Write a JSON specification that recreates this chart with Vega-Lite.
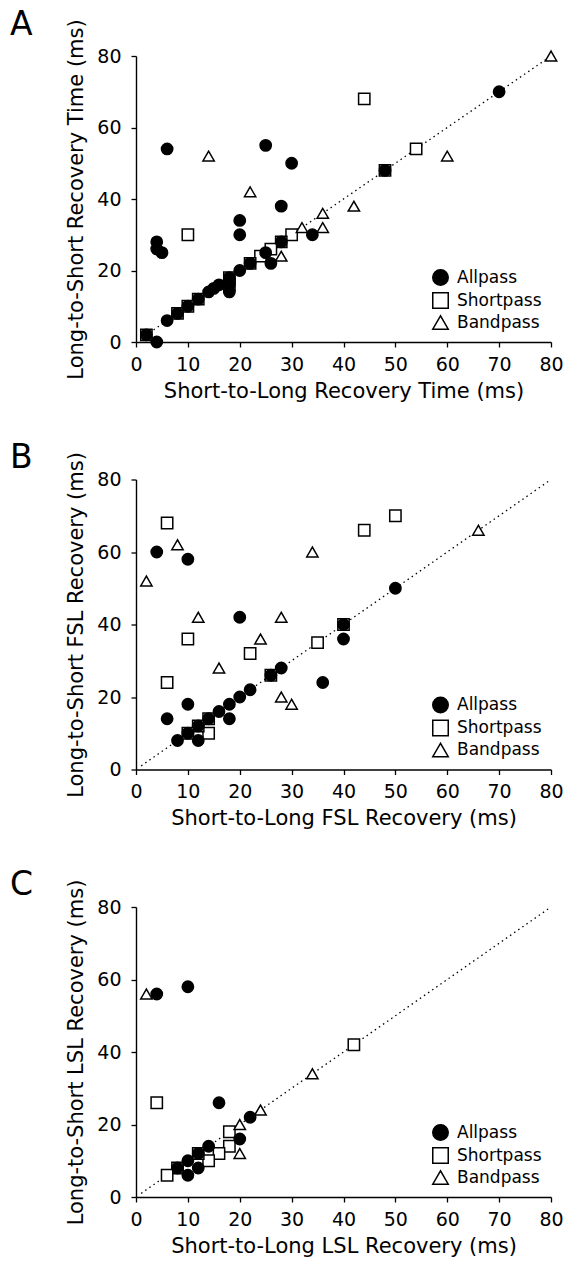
{
  "$schema": "https://vega.github.io/schema/vega-lite/v6.json",
  "background": "white",
  "padding": {"left": 10, "top": 8, "right": 4, "bottom": 4},
  "spacing": 40.5,
  "resolve": {"scale": {"shape": "independent", "fill": "independent", "stroke": "independent"}, "legend": {"shape": "independent", "fill": "independent", "stroke": "independent"}},
  "config": {
    "font": "DejaVu Sans",
    "view": {"stroke": null},
    "title": {"fontSize": 33, "fontWeight": "normal", "anchor": "start", "frame": "group", "dx": -126, "offset": -23, "color": "black"},
    "axis": {
      "grid": false,
      "domainColor": "black", "domainWidth": 1.4,
      "tickColor": "black", "tickWidth": 1.3, "tickSize": 5,
      "labelColor": "black", "labelFontSize": 19, "labelPadding": 8,
      "labelOverlap": false, "labelFlush": false,
      "titleColor": "black", "titleFontSize": 21, "titleFontWeight": "normal"
    },
    "axisX": {"titlePadding": 6},
    "axisY": {"titlePadding": 10, "labelPadding": 10},
    "legend": {
      "orient": "bottom-right", "offset": 9, "padding": 0,
      "labelFontSize": 17, "labelColor": "black", "labelOffset": 8,
      "symbolSize": 240, "symbolStrokeWidth": 1.5,
      "rowPadding": 0
    }
  },
  "datasets": {
    "recovery": [
      {"s2l": 44, "l2s": 68, "filter": "Shortpass"},
      {"s2l": 10, "l2s": 30, "filter": "Shortpass"},
      {"s2l": 54, "l2s": 54, "filter": "Shortpass"},
      {"s2l": 48, "l2s": 48, "filter": "Shortpass"},
      {"s2l": 30, "l2s": 30, "filter": "Shortpass"},
      {"s2l": 28, "l2s": 28, "filter": "Shortpass"},
      {"s2l": 26, "l2s": 26, "filter": "Shortpass"},
      {"s2l": 24, "l2s": 24, "filter": "Shortpass"},
      {"s2l": 22, "l2s": 22, "filter": "Shortpass"},
      {"s2l": 18, "l2s": 18, "filter": "Shortpass"},
      {"s2l": 18, "l2s": 16, "filter": "Shortpass"},
      {"s2l": 12, "l2s": 12, "filter": "Shortpass"},
      {"s2l": 10, "l2s": 10, "filter": "Shortpass"},
      {"s2l": 8, "l2s": 8, "filter": "Shortpass"},
      {"s2l": 2, "l2s": 2, "filter": "Shortpass"},
      {"s2l": 80, "l2s": 80, "filter": "Bandpass"},
      {"s2l": 14, "l2s": 52, "filter": "Bandpass"},
      {"s2l": 60, "l2s": 52, "filter": "Bandpass"},
      {"s2l": 22, "l2s": 42, "filter": "Bandpass"},
      {"s2l": 42, "l2s": 38, "filter": "Bandpass"},
      {"s2l": 36, "l2s": 36, "filter": "Bandpass"},
      {"s2l": 32, "l2s": 32, "filter": "Bandpass"},
      {"s2l": 36, "l2s": 32, "filter": "Bandpass"},
      {"s2l": 28, "l2s": 24, "filter": "Bandpass"},
      {"s2l": 6, "l2s": 54, "filter": "Allpass"},
      {"s2l": 25, "l2s": 55, "filter": "Allpass"},
      {"s2l": 30, "l2s": 50, "filter": "Allpass"},
      {"s2l": 28, "l2s": 38, "filter": "Allpass"},
      {"s2l": 20, "l2s": 34, "filter": "Allpass"},
      {"s2l": 20, "l2s": 30, "filter": "Allpass"},
      {"s2l": 4, "l2s": 28, "filter": "Allpass"},
      {"s2l": 4, "l2s": 26, "filter": "Allpass"},
      {"s2l": 5, "l2s": 25, "filter": "Allpass"},
      {"s2l": 34, "l2s": 30, "filter": "Allpass"},
      {"s2l": 70, "l2s": 70, "filter": "Allpass"},
      {"s2l": 25, "l2s": 25, "filter": "Allpass"},
      {"s2l": 26, "l2s": 22, "filter": "Allpass"},
      {"s2l": 20, "l2s": 20, "filter": "Allpass"},
      {"s2l": 18, "l2s": 18, "filter": "Allpass"},
      {"s2l": 18, "l2s": 16, "filter": "Allpass"},
      {"s2l": 18, "l2s": 14, "filter": "Allpass"},
      {"s2l": 14, "l2s": 14, "filter": "Allpass"},
      {"s2l": 15, "l2s": 15, "filter": "Allpass"},
      {"s2l": 16, "l2s": 16, "filter": "Allpass"},
      {"s2l": 6, "l2s": 6, "filter": "Allpass"},
      {"s2l": 4, "l2s": 0, "filter": "Allpass"},
      {"s2l": 48, "l2s": 48, "filter": "Allpass"},
      {"s2l": 28, "l2s": 28, "filter": "Allpass"},
      {"s2l": 22, "l2s": 22, "filter": "Allpass"},
      {"s2l": 12, "l2s": 12, "filter": "Allpass"},
      {"s2l": 10, "l2s": 10, "filter": "Allpass"},
      {"s2l": 8, "l2s": 8, "filter": "Allpass"},
      {"s2l": 2, "l2s": 2, "filter": "Allpass"}
    ],
    "fsl": [
      {"s2l": 6, "l2s": 68, "filter": "Shortpass"},
      {"s2l": 50, "l2s": 70, "filter": "Shortpass"},
      {"s2l": 44, "l2s": 66, "filter": "Shortpass"},
      {"s2l": 10, "l2s": 36, "filter": "Shortpass"},
      {"s2l": 22, "l2s": 32, "filter": "Shortpass"},
      {"s2l": 6, "l2s": 24, "filter": "Shortpass"},
      {"s2l": 35, "l2s": 35, "filter": "Shortpass"},
      {"s2l": 40, "l2s": 40, "filter": "Shortpass"},
      {"s2l": 26, "l2s": 26, "filter": "Shortpass"},
      {"s2l": 14, "l2s": 10, "filter": "Shortpass"},
      {"s2l": 14, "l2s": 14, "filter": "Shortpass"},
      {"s2l": 12, "l2s": 12, "filter": "Shortpass"},
      {"s2l": 10, "l2s": 10, "filter": "Shortpass"},
      {"s2l": 2, "l2s": 52, "filter": "Bandpass"},
      {"s2l": 8, "l2s": 62, "filter": "Bandpass"},
      {"s2l": 12, "l2s": 42, "filter": "Bandpass"},
      {"s2l": 16, "l2s": 28, "filter": "Bandpass"},
      {"s2l": 24, "l2s": 36, "filter": "Bandpass"},
      {"s2l": 28, "l2s": 42, "filter": "Bandpass"},
      {"s2l": 34, "l2s": 60, "filter": "Bandpass"},
      {"s2l": 66, "l2s": 66, "filter": "Bandpass"},
      {"s2l": 28, "l2s": 20, "filter": "Bandpass"},
      {"s2l": 30, "l2s": 18, "filter": "Bandpass"},
      {"s2l": 4, "l2s": 60, "filter": "Allpass"},
      {"s2l": 10, "l2s": 58, "filter": "Allpass"},
      {"s2l": 20, "l2s": 42, "filter": "Allpass"},
      {"s2l": 50, "l2s": 50, "filter": "Allpass"},
      {"s2l": 40, "l2s": 36, "filter": "Allpass"},
      {"s2l": 36, "l2s": 24, "filter": "Allpass"},
      {"s2l": 28, "l2s": 28, "filter": "Allpass"},
      {"s2l": 22, "l2s": 22, "filter": "Allpass"},
      {"s2l": 20, "l2s": 20, "filter": "Allpass"},
      {"s2l": 18, "l2s": 18, "filter": "Allpass"},
      {"s2l": 18, "l2s": 14, "filter": "Allpass"},
      {"s2l": 16, "l2s": 16, "filter": "Allpass"},
      {"s2l": 10, "l2s": 18, "filter": "Allpass"},
      {"s2l": 6, "l2s": 14, "filter": "Allpass"},
      {"s2l": 8, "l2s": 8, "filter": "Allpass"},
      {"s2l": 12, "l2s": 8, "filter": "Allpass"},
      {"s2l": 10, "l2s": 10, "filter": "Allpass"},
      {"s2l": 12, "l2s": 12, "filter": "Allpass"},
      {"s2l": 14, "l2s": 14, "filter": "Allpass"},
      {"s2l": 26, "l2s": 26, "filter": "Allpass"},
      {"s2l": 40, "l2s": 40, "filter": "Allpass"}
    ],
    "lsl": [
      {"s2l": 4, "l2s": 26, "filter": "Shortpass"},
      {"s2l": 42, "l2s": 42, "filter": "Shortpass"},
      {"s2l": 18, "l2s": 18, "filter": "Shortpass"},
      {"s2l": 18, "l2s": 14, "filter": "Shortpass"},
      {"s2l": 16, "l2s": 12, "filter": "Shortpass"},
      {"s2l": 14, "l2s": 10, "filter": "Shortpass"},
      {"s2l": 12, "l2s": 12, "filter": "Shortpass"},
      {"s2l": 8, "l2s": 8, "filter": "Shortpass"},
      {"s2l": 6, "l2s": 6, "filter": "Shortpass"},
      {"s2l": 2, "l2s": 56, "filter": "Bandpass"},
      {"s2l": 34, "l2s": 34, "filter": "Bandpass"},
      {"s2l": 24, "l2s": 24, "filter": "Bandpass"},
      {"s2l": 20, "l2s": 20, "filter": "Bandpass"},
      {"s2l": 20, "l2s": 12, "filter": "Bandpass"},
      {"s2l": 4, "l2s": 56, "filter": "Allpass"},
      {"s2l": 10, "l2s": 58, "filter": "Allpass"},
      {"s2l": 16, "l2s": 26, "filter": "Allpass"},
      {"s2l": 22, "l2s": 22, "filter": "Allpass"},
      {"s2l": 20, "l2s": 16, "filter": "Allpass"},
      {"s2l": 14, "l2s": 14, "filter": "Allpass"},
      {"s2l": 12, "l2s": 12, "filter": "Allpass"},
      {"s2l": 10, "l2s": 10, "filter": "Allpass"},
      {"s2l": 8, "l2s": 8, "filter": "Allpass"},
      {"s2l": 12, "l2s": 8, "filter": "Allpass"},
      {"s2l": 10, "l2s": 6, "filter": "Allpass"}
    ]
  },
  "vconcat": [
    {
      "title": {"text": "A"},
      "width": 415,
      "height": 286,
      "layer": [
        {
          "data": {"values": [{}]},
          "mark": {"type": "rule", "color": "black", "strokeWidth": 1.3, "strokeDash": [1.5, 3.5]},
          "encoding": {
            "x": {"datum": 1, "type": "quantitative", "title": "Short-to-Long Recovery Time (ms)"},
            "y": {"datum": 1, "type": "quantitative", "title": "Long-to-Short Recovery Time (ms)"},
            "x2": {"datum": 80},
            "y2": {"datum": 80}
          }
        },
        {
          "data": {"name": "recovery"},
          "mark": {"type": "point", "filled": false, "size": 128, "strokeWidth": 1.5, "opacity": 1},
          "encoding": {
            "x": {"field": "s2l", "type": "quantitative", "title": "Short-to-Long Recovery Time (ms)",
                  "scale": {"domain": [0, 80], "nice": false},
                  "axis": {"values": [0, 5, 10, 15, 20, 25, 30, 35, 40, 45, 50, 55, 60, 65, 70, 75, 80], "labelOverlap": false, "labelExpr": "datum.value % 10 === 0 ? datum.label : ''"}},
            "y": {"field": "l2s", "type": "quantitative", "title": "Long-to-Short Recovery Time (ms)",
                  "scale": {"domain": [0, 80], "nice": false},
                  "axis": {"values": [0, 5, 10, 15, 20, 25, 30, 35, 40, 45, 50, 55, 60, 65, 70, 75, 80], "labelOverlap": false, "labelExpr": "datum.value % 10 === 0 ? datum.label : ''"}},
            "shape": {"field": "filter", "type": "nominal", "legend": {"title": null},
                      "scale": {"domain": ["Allpass", "Shortpass", "Bandpass"], "range": ["circle", "square", "triangle-up"]}},
            "fill": {"field": "filter", "type": "nominal", "legend": {"title": null},
                     "scale": {"domain": ["Allpass", "Shortpass", "Bandpass"], "range": ["black", "white", "white"]}},
            "stroke": {"field": "filter", "type": "nominal", "legend": {"title": null},
                       "scale": {"domain": ["Allpass", "Shortpass", "Bandpass"], "range": ["black", "black", "black"]}}
          }
        }
      ]
    },
    {
      "title": {"text": "B"},
      "width": 415,
      "height": 290,
      "layer": [
        {
          "data": {"values": [{}]},
          "mark": {"type": "rule", "color": "black", "strokeWidth": 1.3, "strokeDash": [1.5, 3.5]},
          "encoding": {
            "x": {"datum": 1, "type": "quantitative", "title": "Short-to-Long FSL Recovery (ms)"},
            "y": {"datum": 1, "type": "quantitative", "title": "Long-to-Short FSL Recovery (ms)"},
            "x2": {"datum": 80},
            "y2": {"datum": 80}
          }
        },
        {
          "data": {"name": "fsl"},
          "mark": {"type": "point", "filled": false, "size": 128, "strokeWidth": 1.5, "opacity": 1},
          "encoding": {
            "x": {"field": "s2l", "type": "quantitative", "title": "Short-to-Long FSL Recovery (ms)",
                  "scale": {"domain": [0, 80], "nice": false},
                  "axis": {"values": [0, 5, 10, 15, 20, 25, 30, 35, 40, 45, 50, 55, 60, 65, 70, 75, 80], "labelOverlap": false, "labelExpr": "datum.value % 10 === 0 ? datum.label : ''"}},
            "y": {"field": "l2s", "type": "quantitative", "title": "Long-to-Short FSL Recovery (ms)",
                  "scale": {"domain": [0, 80], "nice": false},
                  "axis": {"values": [0, 5, 10, 15, 20, 25, 30, 35, 40, 45, 50, 55, 60, 65, 70, 75, 80], "labelOverlap": false, "labelExpr": "datum.value % 10 === 0 ? datum.label : ''"}},
            "shape": {"field": "filter", "type": "nominal", "legend": {"title": null},
                      "scale": {"domain": ["Allpass", "Shortpass", "Bandpass"], "range": ["circle", "square", "triangle-up"]}},
            "fill": {"field": "filter", "type": "nominal", "legend": {"title": null},
                     "scale": {"domain": ["Allpass", "Shortpass", "Bandpass"], "range": ["black", "white", "white"]}},
            "stroke": {"field": "filter", "type": "nominal", "legend": {"title": null},
                       "scale": {"domain": ["Allpass", "Shortpass", "Bandpass"], "range": ["black", "black", "black"]}}
          }
        }
      ]
    },
    {
      "title": {"text": "C"},
      "width": 415,
      "height": 290,
      "layer": [
        {
          "data": {"values": [{}]},
          "mark": {"type": "rule", "color": "black", "strokeWidth": 1.3, "strokeDash": [1.5, 3.5]},
          "encoding": {
            "x": {"datum": 1, "type": "quantitative", "title": "Short-to-Long LSL Recovery (ms)"},
            "y": {"datum": 1, "type": "quantitative", "title": "Long-to-Short LSL Recovery (ms)"},
            "x2": {"datum": 80},
            "y2": {"datum": 80}
          }
        },
        {
          "data": {"name": "lsl"},
          "mark": {"type": "point", "filled": false, "size": 128, "strokeWidth": 1.5, "opacity": 1},
          "encoding": {
            "x": {"field": "s2l", "type": "quantitative", "title": "Short-to-Long LSL Recovery (ms)",
                  "scale": {"domain": [0, 80], "nice": false},
                  "axis": {"values": [0, 5, 10, 15, 20, 25, 30, 35, 40, 45, 50, 55, 60, 65, 70, 75, 80], "labelOverlap": false, "labelExpr": "datum.value % 10 === 0 ? datum.label : ''"}},
            "y": {"field": "l2s", "type": "quantitative", "title": "Long-to-Short LSL Recovery (ms)",
                  "scale": {"domain": [0, 80], "nice": false},
                  "axis": {"values": [0, 5, 10, 15, 20, 25, 30, 35, 40, 45, 50, 55, 60, 65, 70, 75, 80], "labelOverlap": false, "labelExpr": "datum.value % 10 === 0 ? datum.label : ''"}},
            "shape": {"field": "filter", "type": "nominal", "legend": {"title": null},
                      "scale": {"domain": ["Allpass", "Shortpass", "Bandpass"], "range": ["circle", "square", "triangle-up"]}},
            "fill": {"field": "filter", "type": "nominal", "legend": {"title": null},
                     "scale": {"domain": ["Allpass", "Shortpass", "Bandpass"], "range": ["black", "white", "white"]}},
            "stroke": {"field": "filter", "type": "nominal", "legend": {"title": null},
                       "scale": {"domain": ["Allpass", "Shortpass", "Bandpass"], "range": ["black", "black", "black"]}}
          }
        }
      ]
    }
  ]
}
